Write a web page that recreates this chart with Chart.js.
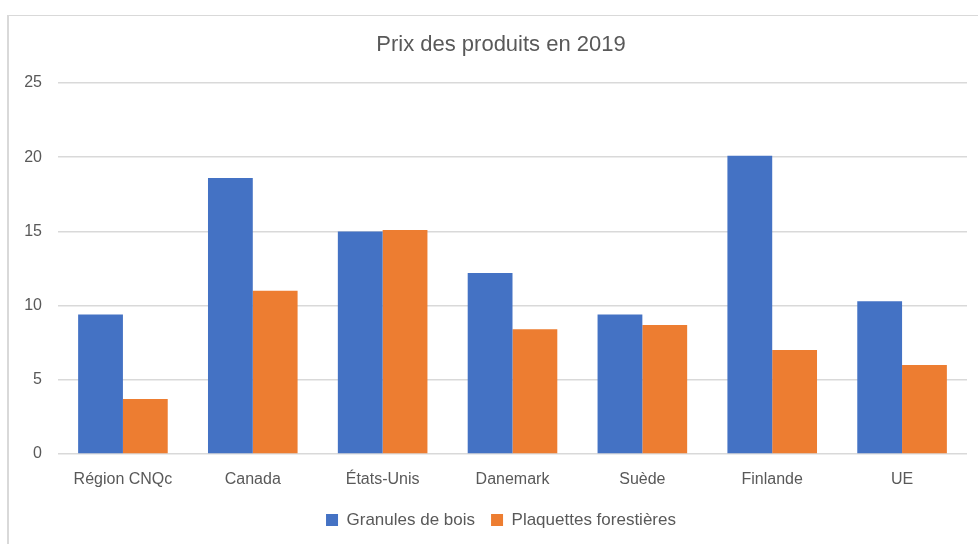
<!DOCTYPE html>
<html>
<head>
<meta charset="utf-8">
<script src="https://cdn.jsdelivr.net/npm/chart.js@4/dist/chart.umd.min.js"></script>
<style>
  body { margin: 0; background: #fff; overflow: hidden; }
  #frame {
    position: absolute; left: 7px; top: 15px;
    width: 970px; height: 529px;
    border-left: 2px solid #d9d9d9; border-top: 1px solid #d9d9d9;
  }
  #chart { display: block; }
</style>
</head>
<body>
<div id="frame"><canvas id="chart" width="969" height="528"></canvas></div>
<script>
// Data
const categories = ["Région CNQc", "Canada", "États-Unis", "Danemark", "Suède", "Finlande", "UE"];
const granules = [9.4, 18.6, 15.0, 12.2, 9.4, 20.1, 10.3];
const plaquettes = [3.7, 11.0, 15.1, 8.4, 8.7, 7.0, 6.0];
const yTicks = [0, 5, 10, 15, 20, 25];

const TEXT = '#595959';
const GRID = '#d9d9d9';
const FONT = "'Liberation Sans', Arial, sans-serif";

// left padding centres title/legend like the original; widen the y box
// back to the canvas edge afterwards so its labels aren't clipped
const yLabelRoom = {
    id: 'yLabelRoom',
    afterLayout(chart) {
        chart.scales.y.left = 0;
    }
};

new Chart(document.getElementById('chart'), {
    type: 'bar',
    data: {
        labels: categories,
        datasets: [
            { label: 'Granules de bois', data: granules, backgroundColor: '#4472C4' },
            { label: 'Plaquettes forestières', data: plaquettes, backgroundColor: '#ED7D31' }
        ]
    },
    plugins: [yLabelRoom],
    options: {
        responsive: false,
        animation: false,
        layout: { padding: { top: 16, left: 26, right: 11, bottom: 5.5 } },
        datasets: { bar: { categoryPercentage: 0.69, barPercentage: 1.0 } },
        plugins: {
            title: {
                display: true,
                text: 'Prix des produits en 2019',
                color: TEXT,
                font: { family: FONT, size: 22, weight: 'normal' },
                padding: { top: 0, bottom: 24.6 }
            },
            legend: {
                position: 'bottom',
                labels: {
                    color: TEXT,
                    font: { family: FONT, size: 17 },
                    boxWidth: 12, boxHeight: 12,
                    padding: 16
                }
            },
            tooltip: { enabled: false }
        },
        scales: {
            x: {
                grid: { display: false, drawTicks: false },
                border: { display: false },
                ticks: { color: TEXT, font: { family: FONT, size: 16 }, padding: 15.5, maxRotation: 0 },
                afterFit: s => { s.height = 41.5; }
            },
            y: {
                min: 0, max: 25,
                afterBuildTicks: s => { s.ticks = yTicks.map(v => ({ value: v })); },
                grid: { color: GRID, lineWidth: 1.5, drawTicks: false },
                border: { display: false },
                ticks: { color: TEXT, font: { family: FONT, size: 16 }, padding: 16 },
                afterFit: s => { s.width = 23; }
            }
        }
    }
});
</script>
</body>
</html>
